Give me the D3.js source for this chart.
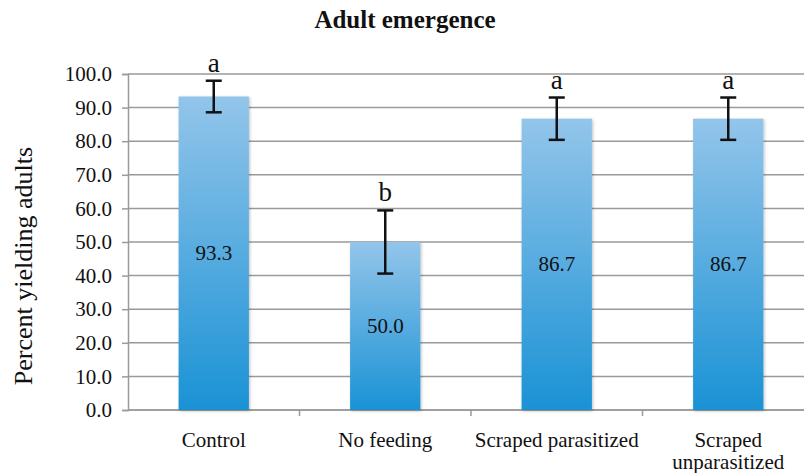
<!DOCTYPE html>
<html><head><meta charset="utf-8">
<script src="https://cdn.jsdelivr.net/npm/d3@7"></script>
<style>body{margin:0;background:#fff}svg{display:block}svg text{font-family:"Liberation Serif","Times New Roman","DejaVu Serif",serif !important}</style>
</head><body><svg id="c" width="804" height="473"></svg>
<script>
const categories = ["Control", "No feeding", "Scraped parasitized", "Scraped unparasitized"];
const values = [93.3, 50.0, 86.7, 86.7];
const errors = [4.7, 9.4, 6.3, 6.3];
const letters = ["a", "b", "a", "a"];
const yTicks = [0, 10, 20, 30, 40, 50, 60, 70, 80, 90, 100];

const FONT = '"Liberation Serif","Times New Roman","DejaVu Serif",serif';
const svg = d3.select("#c");
const m = {left: 128, top: 74, bottom: 410, right: 814};
const x = d3.scaleBand().domain(categories).range([m.left, m.right]).paddingInner(0.59).paddingOuter(0.295);
const y = d3.scaleLinear().domain([0, 100]).range([m.bottom, m.top]);

const defs = svg.append("defs");
const g = defs.append("linearGradient").attr("id", "bg").attr("x1", 0).attr("y1", 0).attr("x2", 0).attr("y2", 1);
g.append("stop").attr("offset", "0%").attr("stop-color", "#93c5ea");
g.append("stop").attr("offset", "100%").attr("stop-color", "#1a92d5");
const f = defs.append("filter").attr("id", "sh").attr("x", "-20%").attr("y", "-5%").attr("width", "140%").attr("height", "110%");
f.append("feDropShadow").attr("dx", 1).attr("dy", 1).attr("stdDeviation", 1.5).attr("flood-color", "#000").attr("flood-opacity", 0.25);

// gridlines
svg.append("g").selectAll("line").data(yTicks).join("line")
  .attr("x1", m.left).attr("x2", 804).attr("y1", d => y(d)).attr("y2", d => y(d))
  .attr("stroke", "#9a9a9a").attr("stroke-width", 1.5);

// y axis
const ya = svg.append("g").attr("transform", `translate(${m.left},0)`)
  .call(d3.axisLeft(y).tickValues(yTicks).tickFormat(d3.format(".1f")).tickSize(6).tickPadding(10));
ya.attr("font-family", FONT);
ya.select(".domain").attr("stroke", "#9a9a9a").attr("stroke-width", 1.5);
ya.selectAll(".tick line").attr("stroke", "#9a9a9a").attr("stroke-width", 1.5);
ya.selectAll("text").attr("font-size", 21).attr("fill", "#111").style("font-family", FONT);

svg.append("line").attr("x1", m.left).attr("x2", 804).attr("y1", m.bottom).attr("y2", m.bottom)
  .attr("stroke", "#9a9a9a").attr("stroke-width", 1.5);
const step = x.step();
svg.append("g").selectAll("line").data(categories.slice(1)).join("line")
  .attr("x1", d => x(d) - x.paddingInner() * step / 2).attr("x2", d => x(d) - x.paddingInner() * step / 2)
  .attr("y1", m.bottom).attr("y2", m.bottom + 6).attr("stroke", "#9a9a9a").attr("stroke-width", 1.5);

// bars
svg.append("g").selectAll("rect").data(categories).join("rect")
  .attr("x", d => x(d)).attr("width", x.bandwidth())
  .attr("y", (d, i) => y(values[i])).attr("height", (d, i) => y(0) - y(values[i]))
  .attr("fill", "url(#bg)").attr("filter", "url(#sh)");

// value labels
svg.append("g").selectAll("text").data(categories).join("text")
  .attr("x", d => x(d) + x.bandwidth() / 2).attr("y", (d, i) => y(values[i] / 2) + 7)
  .attr("text-anchor", "middle").attr("font-size", 21).attr("fill", "#111").style("font-family", FONT)
  .text((d, i) => values[i].toFixed(1));

// error bars
const eb = svg.append("g").attr("stroke", "#111").attr("stroke-width", 2.5);
categories.forEach((d, i) => {
  const cx = x(d) + x.bandwidth() / 2;
  const hi = y(values[i] + errors[i]), lo = y(values[i] - errors[i]);
  eb.append("line").attr("x1", cx).attr("x2", cx).attr("y1", hi).attr("y2", lo);
  eb.append("line").attr("x1", cx - 8).attr("x2", cx + 8).attr("y1", hi).attr("y2", hi);
  eb.append("line").attr("x1", cx - 8).attr("x2", cx + 8).attr("y1", lo).attr("y2", lo);
});

// letters
svg.append("g").selectAll("text").data(categories).join("text")
  .attr("x", d => x(d) + x.bandwidth() / 2).attr("y", (d, i) => y(values[i] + errors[i]) - 9)
  .attr("text-anchor", "middle").attr("font-size", 27).attr("fill", "#111").style("font-family", FONT)
  .text((d, i) => letters[i]);

// category labels
svg.append("g").selectAll("text").data(categories).join("text")
  .attr("x", d => x(d) + x.bandwidth() / 2).attr("y", 447)
  .attr("text-anchor", "middle").attr("font-size", 21).attr("fill", "#111").style("font-family", FONT)
  .each(function(d) {
    const t = d3.select(this);
    const lines = d === "Scraped unparasitized" ? ["Scraped", "unparasitized"] : [d];
    lines.forEach((l, k) => t.append("tspan").attr("x", t.attr("x")).attr("dy", k ? 22 : 0).text(l));
  });

// title
svg.append("text").attr("x", 405).attr("y", 28).attr("text-anchor", "middle").style("font-family", FONT)
  .attr("font-size", 25).attr("font-weight", "bold").attr("fill", "#111").text("Adult emergence");

// y label
svg.append("text").attr("transform", "translate(32,266) rotate(-90)").attr("text-anchor", "middle").style("font-family", FONT)
  .attr("font-size", 26).attr("fill", "#111").text("Percent yielding adults");
</script></body></html>
